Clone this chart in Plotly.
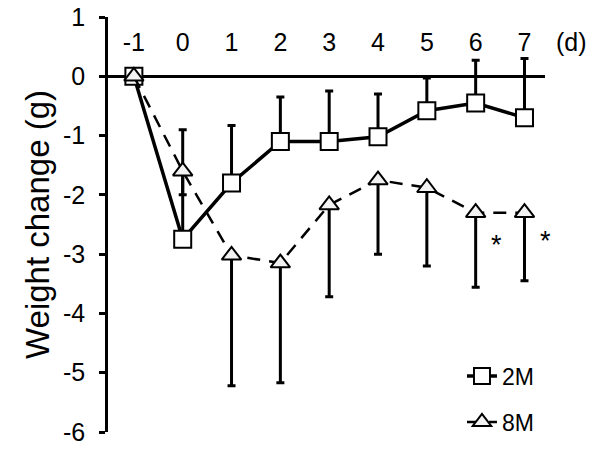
import plotly.graph_objects as go

# days after treatment
days = [-1, 0, 1, 2, 3, 4, 5, 6, 7]
day_labels = ["-1", "0", "1", "2", "3", "4", "5", "6", "7"]

# y ticks (hyphen minus like the original)
y_ticks = [1, 0, -1, -2, -3, -4, -5, -6]
y_labels = ["1", "0", "-1", "-2", "-3", "-4", "-5", "-6"]

# 2M group: mean weight change and upper SD
w_2m = [0, -2.75, -1.8, -1.1, -1.1, -1.02, -0.58, -0.45, -0.7]
sd_2m = [0, 1.85, 0.97, 0.75, 0.85, 0.72, 0.55, 0.72, 1.0]

# 8M group: mean weight change and lower SD
w_8m = [0, -1.6, -3.02, -3.15, -2.17, -1.75, -1.88, -2.3, -2.3]
sd_8m = [0, 0.4, 2.2, 2.02, 1.55, 1.25, 1.32, 1.26, 1.15]

# significance marks (days 6 and 7, beside the 8M bars)
star_x = [6, 7]
star_y = [-2.85, -2.78]

FONT = "Liberation Sans, Arial, sans-serif"

fig = go.Figure()

fig.add_trace(go.Scatter(
    x=days, y=w_2m, name="2M", mode="lines+markers", legend="legend",
    line=dict(color="black", width=3.5),
    marker=dict(symbol="square", size=17, color="white",
                line=dict(color="black", width=2)),
    error_y=dict(type="data", symmetric=False, array=sd_2m,
                 arrayminus=[0] * len(sd_2m), color="black",
                 thickness=3, width=4),
))

fig.add_trace(go.Scatter(
    x=days, y=w_8m, name="8M", mode="lines+markers", legend="legend2",
    line=dict(color="black", width=2.5, dash="13px,9px"),
    marker=dict(symbol="triangle-up", size=17, color="#f2f2f2",
                line=dict(color="black", width=2)),
    error_y=dict(type="data", symmetric=False, array=[0] * len(sd_8m),
                 arrayminus=sd_8m, color="black", thickness=3, width=4),
))

for sx, sy in zip(star_x, star_y):
    fig.add_annotation(x=sx, y=sy, text="*", showarrow=False, xshift=21,
                       font=dict(size=27, color="black", family=FONT))

fig.add_annotation(x=1.02, y=0.94, xref="paper", yref="paper",
                   xanchor="left", yanchor="middle", text="(d)",
                   showarrow=False,
                   font=dict(size=25, color="black", family=FONT))

legend_style = dict(xanchor="left", yanchor="middle",
                    bgcolor="rgba(0,0,0,0)", font=dict(size=23))

fig.update_layout(
    width=600, height=456,
    margin=dict(l=108, r=55, t=17, b=16),
    paper_bgcolor="white", plot_bgcolor="white",
    font=dict(family=FONT, size=25, color="black"),
    showlegend=True,
    legend=dict(x=0.81, y=0.135, **legend_style),
    legend2=dict(x=0.81, y=0.024, **legend_style),
    xaxis=dict(
        range=[-1.53, 7.42], side="top", anchor="free", position=0.905,
        tickmode="array", tickvals=days, ticktext=day_labels,
        showline=False, showgrid=False, zeroline=False, ticks="",
        automargin=False,
    ),
    yaxis=dict(
        range=[-6, 1], tickmode="array", tickvals=y_ticks, ticktext=y_labels,
        showgrid=False, automargin=False,
        zeroline=True, zerolinecolor="black", zerolinewidth=2.5,
        showline=True, linecolor="black", linewidth=2.5,
        ticks="outside", ticklen=6, tickwidth=2.5, tickcolor="black",
        ticklabelstandoff=9,
        title=dict(text="Weight change (g)", font=dict(size=33), standoff=4),
    ),
)

# drop the default page margin so the figure fills the window
fig.write_html("out.html", config={"displayModeBar": False},
               post_script="document.body.style.margin = '0';")
